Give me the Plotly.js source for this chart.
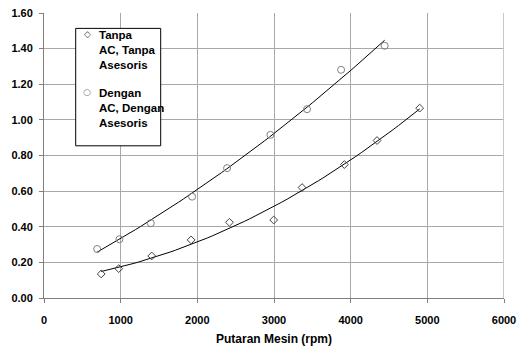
<!DOCTYPE html>
<html>
<head>
<meta charset="utf-8">
<script src="https://cdn.plot.ly/plotly-3.0.1.min.js"></script>
<style>html,body{margin:0;padding:0;background:#fff;}#chart{width:519px;height:347px;}</style>
</head>
<body>
<div id="chart"></div>
<script>
// Series 1: Tanpa AC, Tanpa Asesoris (diamonds)
var rpmTanpa = [746, 975, 1405, 1919, 2419, 2996, 3366, 3918, 4344, 4900];
var valTanpa = [0.135, 0.165, 0.236, 0.326, 0.425, 0.438, 0.620, 0.749, 0.884, 1.066];
// Series 2: Dengan AC, Dengan Asesoris (circles)
var rpmDengan = [693, 984, 1393, 1932, 2388, 2953, 3431, 3875, 4443];
var valDengan = [0.275, 0.330, 0.420, 0.569, 0.729, 0.916, 1.060, 1.281, 1.416];
var nameTanpa = "Tanpa<br>AC, Tanpa<br>Asesoris";
var nameDengan = "Dengan<br>AC, Dengan<br>Asesoris";
var xTicks = [0, 1000, 2000, 3000, 4000, 5000, 6000];
var yTicks = [0, 0.2, 0.4, 0.6, 0.8, 1.0, 1.2, 1.4, 1.6];

// quadratic least-squares trendline (like Excel polynomial order 2)
function polyFit2(xs, ys) {
  var n = xs.length, S = [0,0,0,0,0], T = [0,0,0];
  for (var i = 0; i < n; i++) {
    var x = xs[i], y = ys[i], p = 1;
    for (var k = 0; k < 5; k++) { S[k] += p; if (k < 3) T[k] += p * y; p *= x; }
  }
  var A = [[S[0],S[1],S[2],T[0]],[S[1],S[2],S[3],T[1]],[S[2],S[3],S[4],T[2]]];
  for (var c = 0; c < 3; c++) {
    for (var r = c + 1; r < 3; r++) {
      var f = A[r][c] / A[c][c];
      for (var j = c; j < 4; j++) A[r][j] -= f * A[c][j];
    }
  }
  var b = [0,0,0];
  for (var r2 = 2; r2 >= 0; r2--) {
    var s = A[r2][3];
    for (var j2 = r2 + 1; j2 < 3; j2++) s -= A[r2][j2] * b[j2];
    b[r2] = s / A[r2][r2];
  }
  return b;
}
function trend(xs, ys) {
  var b = polyFit2(xs, ys);
  var x0 = Math.min.apply(null, xs), x1 = Math.max.apply(null, xs);
  var tx = [], ty = [];
  for (var i = 0; i <= 60; i++) {
    var x = x0 + (x1 - x0) * i / 60;
    tx.push(x); ty.push(b[0] + b[1] * x + b[2] * x * x);
  }
  return {x: tx, y: ty};
}
var t1 = trend(rpmTanpa, valTanpa);
var t2 = trend(rpmDengan, valDengan);

var FAM = "Liberation Sans, Arial, sans-serif";
var boldFont = function(sz){ return {family: FAM, size: sz, color: "#000", weight: "bold"}; };
var data = [
  {x: t1.x, y: t1.y, mode: "lines", line: {color: "#000", width: 1}, showlegend: false, hoverinfo: "skip"},
  {x: t2.x, y: t2.y, mode: "lines", line: {color: "#000", width: 1}, showlegend: false, hoverinfo: "skip"},
  {x: rpmTanpa, y: valTanpa, mode: "markers", name: nameTanpa, showlegend: false,
   marker: {symbol: "diamond-open", size: 6, color: "#404040", line: {width: 1, color: "#404040"}}},
  {x: rpmDengan, y: valDengan, mode: "markers", name: nameDengan, showlegend: false,
   marker: {symbol: "circle-open", size: 7, color: "#808080", line: {width: 1, color: "#808080"}}}
];
var layout = {
  width: 519, height: 347,
  margin: {l: 44, r: 15, t: 13, b: 49, pad: 0},
  paper_bgcolor: "#fff", plot_bgcolor: "#fff",
  font: {family: FAM, size: 11, color: "#000"},
  showlegend: false,
  xaxis: {range: [0, 6000], tickvals: xTicks, ticktext: xTicks.map(String),
    showgrid: true, gridcolor: "#a8a8a8", gridwidth: 1, zeroline: false,
    showline: true, linecolor: "#808080", linewidth: 1,
    ticks: "outside", ticklen: 4, tickcolor: "#808080", ticklabelstandoff: 8,
    tickfont: boldFont(11),
    title: {text: "Putaran Mesin (rpm)", standoff: 9, font: boldFont(12)}},
  yaxis: {range: [0, 1.6], tickvals: yTicks, ticktext: yTicks.map(function(v){return v.toFixed(2);}),
    showgrid: true, gridcolor: "#a8a8a8", gridwidth: 1, zeroline: false,
    showline: true, linecolor: "#808080", linewidth: 1,
    ticks: "outside", ticklen: 4, tickcolor: "#808080", ticklabelstandoff: 4,
    tickfont: boldFont(11)},
  shapes: [
    {type: "line", xref: "x", yref: "paper", x0: 6000, x1: 6000, y0: 0, y1: 1,
     line: {color: "#c8c8c8", width: 2}},
    {type: "rect", xref: "paper", yref: "paper", x0: 0.0689, x1: 0.2537, y0: 0.534, y1: 0.946,
     fillcolor: "#fff", line: {color: "#000", width: 1}, layer: "above"}
  ],
  annotations: [
    {xref: "paper", yref: "paper", x: 0.095, y: 0.925, xanchor: "center", yanchor: "middle",
     text: "\u25C7", showarrow: false, font: {family: "DejaVu Sans", size: 9, color: "#404040"}},
    {xref: "paper", yref: "paper", x: 0.1152, y: 0.9526, xanchor: "left", yanchor: "top", align: "left",
     text: nameTanpa, showarrow: false, font: boldFont(11.5)},
    {xref: "paper", yref: "paper", x: 0.0941, y: 0.722, xanchor: "center", yanchor: "middle",
     text: "\u25CB", showarrow: false, font: {family: "DejaVu Sans", size: 9, color: "#808080"}},
    {xref: "paper", yref: "paper", x: 0.1152, y: 0.748, xanchor: "left", yanchor: "top", align: "left",
     text: nameDengan, showarrow: false, font: boldFont(11.5)}
  ]
};
Plotly.newPlot("chart", data, layout, {displayModeBar: false, staticPlot: true});
</script>
</body>
</html>
